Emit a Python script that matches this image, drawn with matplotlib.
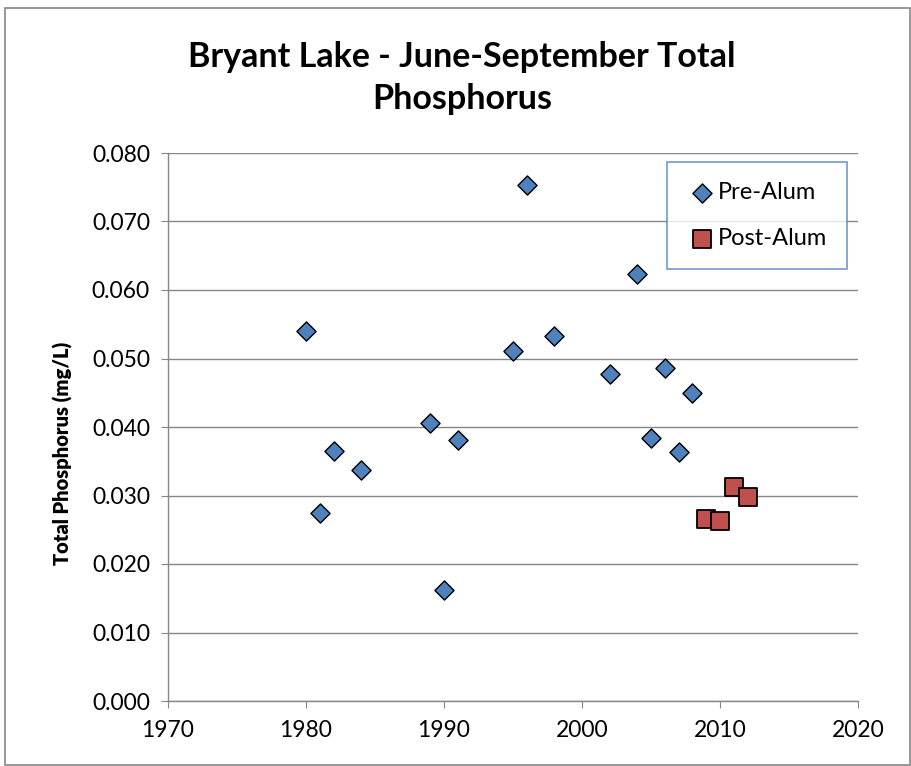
import matplotlib
matplotlib.use("Agg")
import matplotlib.pyplot as plt
from matplotlib.patches import Rectangle

plt.rcParams['font.family'] = ['Lato', 'DejaVu Sans']

pre_years = [1980, 1981, 1982, 1984, 1989, 1990, 1991, 1995, 1996, 1998,
             2002, 2004, 2005, 2006, 2007, 2008]
pre_tp = [0.0540, 0.0274, 0.0365, 0.0337, 0.0406, 0.0162, 0.0381, 0.0511,
          0.0753, 0.0533, 0.0477, 0.0623, 0.0384, 0.0486, 0.0364, 0.0450]
post_years = [2009, 2010, 2011, 2012]
post_tp = [0.0266, 0.0263, 0.0312, 0.0298]

title = "Bryant Lake - June-September Total\nPhosphorus"
ylabel = "Total Phosphorus (mg/L)"
xticks = [1970, 1980, 1990, 2000, 2010, 2020]
yticks = [0.0, 0.01, 0.02, 0.03, 0.04, 0.05, 0.06, 0.07, 0.08]

W, H = 912, 766
fig = plt.figure(figsize=(W/100, H/100), dpi=100)
fig.patches.append(Rectangle((5/W, 1-765/H), 905/W, 757/H, transform=fig.transFigure,
                             fill=False, edgecolor='#868686', linewidth=1.2))
ax = fig.add_axes([168/W, 1-701/H, (858-168)/W, (701-153)/H])

ax.scatter(pre_years, pre_tp, marker='D', s=95, color='#4F81BD',
           edgecolors='black', linewidths=1.0, zorder=3, label='Pre-Alum')
ax.scatter(post_years, post_tp, marker='s', s=170, color='#C0504D',
           edgecolors='black', linewidths=1.3, zorder=3, label='Post-Alum')

ax.set_xlim(1970, 2020)
ax.set_ylim(0, 0.08)
ax.set_xticks(xticks)
ax.set_yticks(yticks)
ax.set_yticklabels([f"{v:.3f}" for v in yticks])
ax.tick_params(labelsize=16.5, direction='out', length=5, color='#868686')
ax.tick_params(axis='x', pad=9)
ax.tick_params(axis='y', pad=8)
ax.grid(axis='y', color='#868686', linewidth=1.0)
ax.set_axisbelow(True)
for s in ['top', 'right']:
    ax.spines[s].set_visible(False)
for s in ['left', 'bottom']:
    ax.spines[s].set_color('#868686')
    ax.spines[s].set_linewidth(1.0)

ax.set_ylabel(ylabel, fontsize=14.5, fontweight='heavy')
ax.yaxis.set_label_coords(-0.137, 1 - (453-153)/548)
fig.text(462/W, 1-78/H, title, ha='center', va='center',
         fontsize=24.5, fontweight='bold', linespacing=1.4)

leg = ax.legend(loc='upper left', bbox_to_anchor=((667-168)/690, 1-(162-153)/548),
                fontsize=17, frameon=True, fancybox=False, borderpad=0.85,
                labelspacing=1.05, handletextpad=0.0, handlelength=1.3,
                borderaxespad=0)
leg.get_frame().set_edgecolor('#4F81BD')
leg.get_frame().set_linewidth(1.2)

fig.savefig('out.png', dpi=100)
